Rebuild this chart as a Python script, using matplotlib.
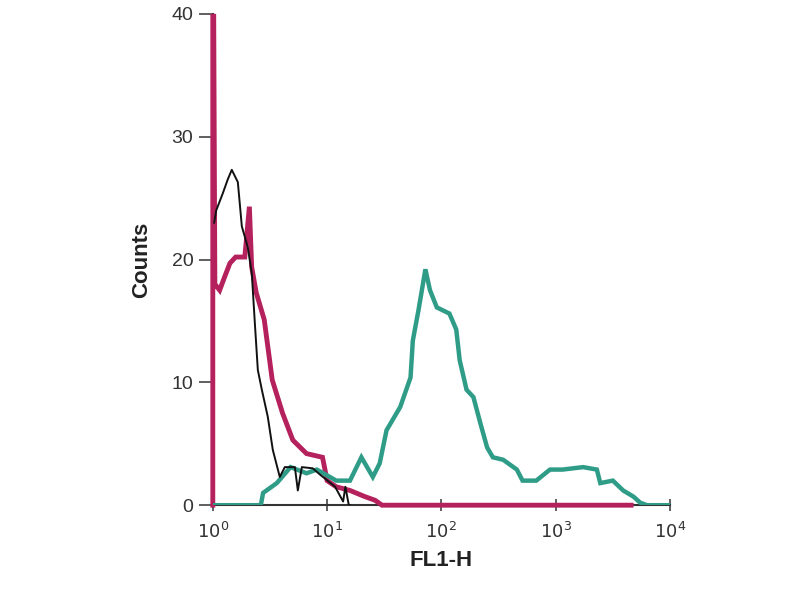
import numpy as np
import matplotlib
matplotlib.use("Agg")
import matplotlib.pyplot as plt

plt.rcParams['font.family'] = ['Liberation Sans', 'DejaVu Sans']

# log10(FL1-H) positions and counts
black_log = [0.012, 0.03, 0.088, 0.13, 0.166, 0.219, 0.254, 0.306, 0.341, 0.368, 0.394,
             0.429, 0.481, 0.525, 0.586, 0.63, 0.718, 0.744, 0.779, 0.875, 0.937, 1.07,
             1.14, 1.16, 1.19, 1.20]
black_cnt = [23.0, 24.0, 25.4, 26.5, 27.3, 26.3, 22.7, 21.0, 18.9, 14.8, 11.0,
             9.4, 7.2, 4.5, 2.3, 3.1, 3.1, 1.2, 3.1, 3.0, 2.5, 1.5,
             0.3, 1.5, 0.0, 0.0]

pink_log = [0.0, 0.0, 0.008, 0.018, 0.06, 0.10, 0.15, 0.20, 0.28, 0.32, 0.34, 0.38,
            0.45, 0.52, 0.61, 0.70, 0.82, 0.96, 1.00, 1.08, 1.20, 1.33, 1.42, 1.48,
            3.66]
pink_cnt = [0.0, 39.8, 39.8, 18.0, 17.5, 18.5, 19.7, 20.2, 20.2, 24.3, 19.4, 17.3,
            15.1, 10.2, 7.5, 5.3, 4.2, 3.9, 2.0, 1.5, 1.2, 0.7, 0.4, 0.0,
            0.0]

teal_log = [0.0, 0.42, 0.44, 0.56, 0.68, 0.82, 0.91, 1.08, 1.20, 1.30, 1.40, 1.46,
            1.52, 1.64, 1.73, 1.75, 1.80, 1.86, 1.90, 1.96, 2.07, 2.13, 2.16, 2.22,
            2.28, 2.34, 2.40, 2.45, 2.54, 2.66, 2.71, 2.83, 2.95, 3.06, 3.24, 3.36,
            3.39, 3.50, 3.59, 3.68, 3.74, 3.80, 4.0]
teal_cnt = [0.0, 0.0, 1.0, 1.8, 3.1, 2.6, 2.9, 2.0, 2.0, 3.9, 2.3, 3.4,
            6.1, 8.0, 10.4, 13.4, 15.9, 19.2, 17.5, 16.1, 15.6, 14.3, 11.8, 9.4,
            8.8, 6.7, 4.7, 3.9, 3.7, 2.9, 2.0, 2.0, 2.9, 2.9, 3.1, 2.9,
            1.8, 2.0, 1.2, 0.7, 0.2, 0.0, 0.0]

y_ticks = [0, 10, 20, 30, 40]
x_ticks = [1, 10, 100, 1000, 10000]
x_tick_labels = [r'$10^{0}$', r'$10^{1}$', r'$10^{2}$', r'$10^{3}$', r'$10^{4}$']

fig = plt.figure(figsize=(8, 6), dpi=100)
ax = fig.add_axes([0.266, 0.158, 0.5715, 0.819])

ax.plot(10 ** np.array(pink_log), pink_cnt, color='#b5215c', lw=3.5, zorder=2.6,
        solid_joinstyle='miter', clip_on=False)
ax.plot(10 ** np.array(teal_log), teal_cnt, color='#2f9c88', lw=3.2, zorder=2.7,
        solid_joinstyle='miter')
ax.plot(10 ** np.array(black_log), black_cnt, color='#111111', lw=1.4, zorder=2.8)

ax.set_xscale('log')
ax.set_xlim(1, 10000)
ax.set_ylim(0, 40)

for s in ['top', 'right']:
    ax.spines[s].set_visible(False)
for s in ['left', 'bottom']:
    ax.spines[s].set_color('#333333')
    ax.spines[s].set_linewidth(1.5)

ax.set_yticks(y_ticks)
ax.set_xticks(x_ticks)
ax.set_xticklabels(x_tick_labels)
ax.xaxis.set_minor_locator(matplotlib.ticker.NullLocator())
ax.tick_params(axis='y', length=10, width=1.2, color='#444444', labelsize=14,
               labelcolor='#333333', pad=4)
ax.tick_params(axis='x', length=8, width=1.2, color='#444444', labelsize=13,
               labelcolor='#333333', pad=8, direction='inout')

ax.set_ylabel('Counts', fontsize=16, fontweight='bold', color='#222222', labelpad=14)
ax.set_xlabel('FL1-H', fontsize=16, fontweight='bold', color='#222222', labelpad=6)

fig.savefig('out.png', dpi=100)
